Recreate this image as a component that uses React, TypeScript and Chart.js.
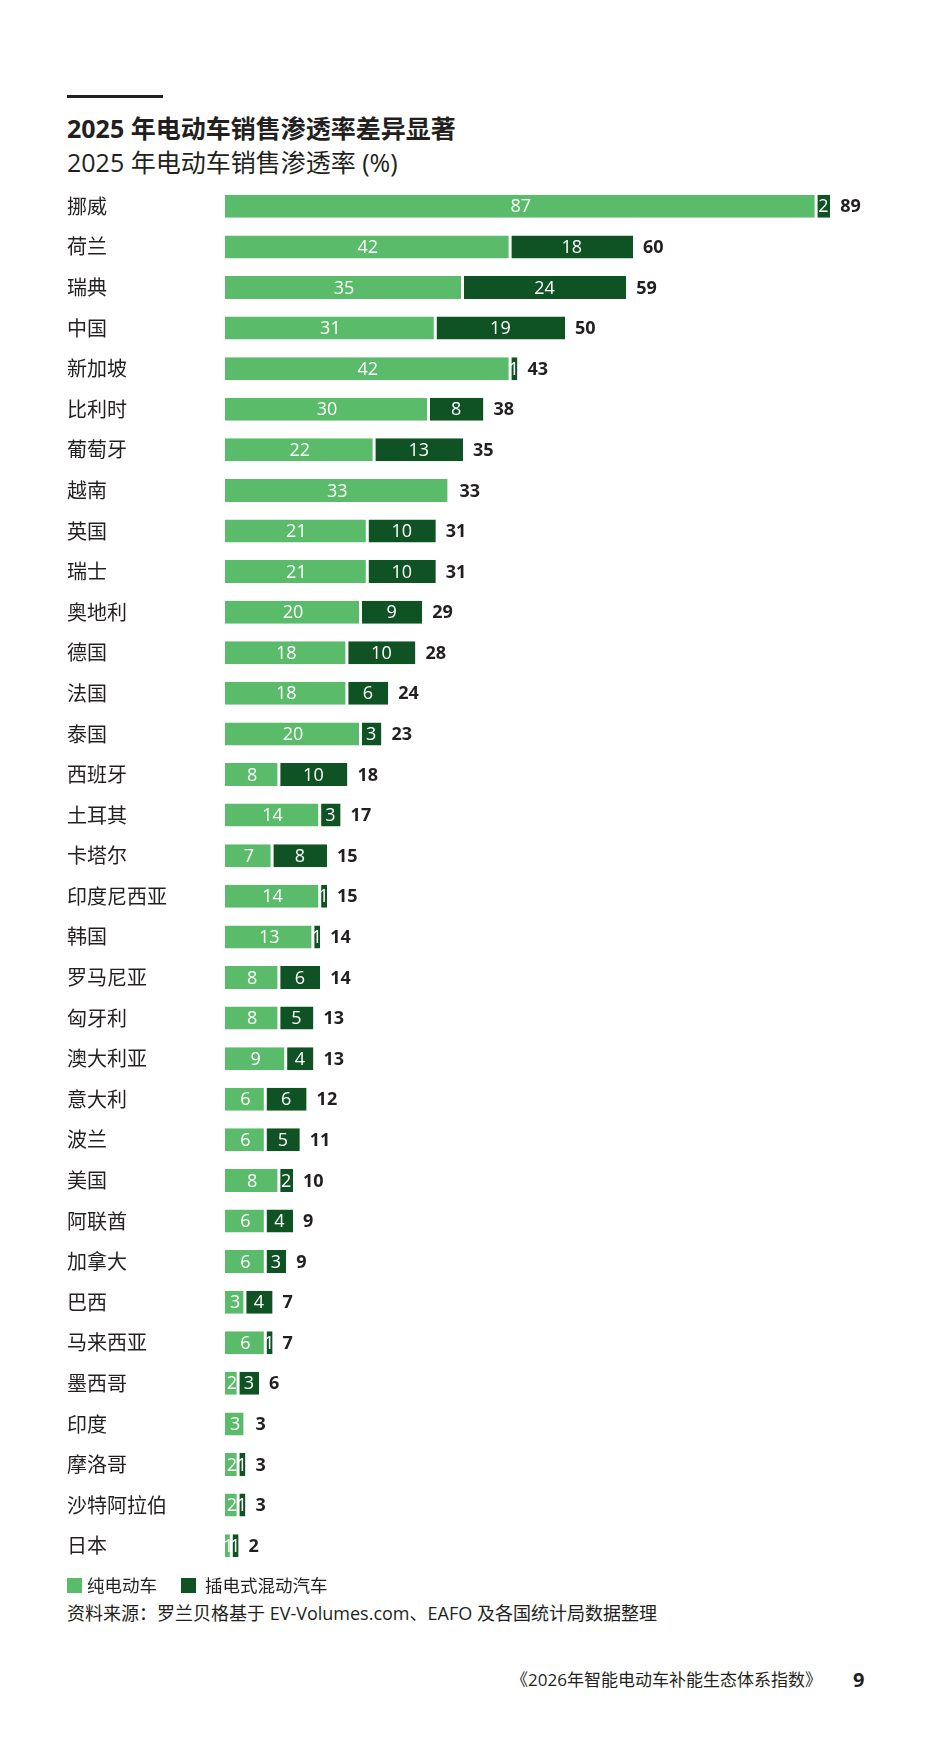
import React, { useEffect, useRef } from "react";
import { Chart, registerables } from "chart.js";

Chart.register(...registerables);

const categories = [
  "挪威", "荷兰", "瑞典", "中国", "新加坡", "比利时", "葡萄牙", "越南", "英国", "瑞士",
  "奥地利", "德国", "法国", "泰国", "西班牙", "土耳其", "卡塔尔", "印度尼西亚", "韩国", "罗马尼亚",
  "匈牙利", "澳大利亚", "意大利", "波兰", "美国", "阿联酋", "加拿大", "巴西", "马来西亚", "墨西哥",
  "印度", "摩洛哥", "沙特阿拉伯", "日本",
];
const bevValues = [
  87, 42, 35, 31, 42, 30, 22, 33, 21, 21,
  20, 18, 18, 20, 8, 14, 7, 14, 13, 8,
  8, 9, 6, 6, 8, 6, 6, 3, 6, 2,
  3, 2, 2, 1,
];
const phevValues = [
  2, 18, 24, 19, 1, 8, 13, 0, 10, 10,
  9, 10, 6, 3, 10, 3, 8, 1, 1, 6,
  5, 4, 6, 5, 2, 4, 3, 4, 1, 3,
  0, 1, 1, 1,
];
const totalValues = [
  89, 60, 59, 50, 43, 38, 35, 33, 31, 31,
  29, 28, 24, 23, 18, 17, 15, 15, 14, 14,
  13, 13, 12, 11, 10, 9, 9, 7, 7, 6,
  3, 3, 3, 2,
];
const seriesNames = ["纯电动车", "插电式混动汽车"];
const xMax = 100;

const GREEN = "#5ABC6A";
const DARK = "#0F5223";
const INK = "#231F20";
const LATIN = '"Open Sans", "Noto Sans CJK SC", sans-serif';
const CJK = '"Noto Sans CJK SC", sans-serif';

const labelPlugin = {
  id: "barLabels",
  afterDatasetsDraw(chart: any) {
    const ctx = chart.ctx;
    const m0 = chart.getDatasetMeta(0);
    const m1 = chart.getDatasetMeta(1);
    ctx.save();
    categories.forEach((_, i) => {
      const segs: [any, number][] = [
        [m0.data[i], bevValues[i]],
        [m1.data[i], phevValues[i]],
      ];
      let end = 0;
      let cy = 0;
      segs.forEach(([el, v]) => {
        const p = el.getProps(["x", "base", "y"], true);
        cy = p.y;
        if (!v) return;
        ctx.font = `18px ${LATIN}`;
        ctx.fillStyle = "#ffffff";
        ctx.textAlign = "center";
        ctx.textBaseline = "middle";
        ctx.fillText(String(v), (p.x + p.base) / 2, p.y + 1);
        end = Math.max(end, p.x);
      });
      ctx.font = `bold 18px ${LATIN}`;
      ctx.fillStyle = INK;
      ctx.textAlign = "left";
      ctx.textBaseline = "middle";
      ctx.fillText(String(totalValues[i]), end + 10, cy + 1);
    });
    ctx.restore();
  },
};

function BarChart() {
  const ref = useRef<HTMLCanvasElement | null>(null);
  useEffect(() => {
    if (!ref.current) return;
    const chart = new Chart(ref.current, {
      type: "bar",
      data: {
        labels: categories,
        datasets: [
          {
            label: seriesNames[0],
            data: bevValues,
            backgroundColor: GREEN,
            borderColor: "#ffffff",
            borderWidth: { left: 0, right: 2, top: 0, bottom: 0 },
            borderSkipped: false,
            barPercentage: 0.567,
            categoryPercentage: 1,
          },
          {
            label: seriesNames[1],
            data: phevValues,
            backgroundColor: DARK,
            borderColor: "#ffffff",
            borderWidth: { left: 1, right: 0, top: 0, bottom: 0 },
            borderSkipped: false,
            barPercentage: 0.567,
            categoryPercentage: 1,
          },
        ],
      },
      options: {
        indexAxis: "y",
        responsive: false,
        maintainAspectRatio: false,
        animation: false,
        layout: { padding: { left: 59, right: 20, top: 20, bottom: 20 } },
        plugins: {
          legend: { display: false },
          tooltip: { enabled: false },
          title: { display: false },
        },
        scales: {
          x: { stacked: true, min: 0, max: xMax, display: false },
          y: {
            stacked: true,
            grid: { display: false },
            border: { display: false },
            ticks: {
              crossAlign: "far",
              padding: 0,
              color: INK,
              font: { family: CJK, size: 20 },
            },
            afterFit: (scale: any) => {
              scale.width = 158;
            },
          },
        },
      },
      plugins: [labelPlugin],
    } as any);
    return () => chart.destroy();
  }, []);
  return (
    <canvas
      ref={ref}
      width={917}
      height={1420}
      style={{ position: "absolute", left: 0, top: 158, width: 917, height: 1420 }}
    />
  );
}

export default function App() {
  const box = (color: string, left: number) => (
    <div style={{ position: "absolute", left, top: 1570, width: 15, height: 15, background: color }} />
  );
  const legendText = (text: string, left: number) => (
    <div style={{ position: "absolute", left, top: 1566, fontSize: 17.5, lineHeight: "22px", color: INK, fontFamily: CJK, whiteSpace: "nowrap" }}>
      {text}
    </div>
  );
  return (
    <div style={{ position: "relative", width: 917, height: 1737, fontFamily: CJK, color: INK }}>
      <div style={{ position: "absolute", left: 59, top: 87, width: 96, height: 3, background: INK }} />
      <div style={{ position: "absolute", left: 59, top: 104, fontSize: 25, lineHeight: "32px", fontWeight: 700, fontFamily: LATIN, whiteSpace: "nowrap" }}>
        2025 年电动车销售渗透率差异显著
      </div>
      <div style={{ position: "absolute", left: 59, top: 138, fontSize: 25, lineHeight: "32px", fontWeight: 400, fontFamily: LATIN, whiteSpace: "nowrap" }}>
        2025 年电动车销售渗透率 (%)
      </div>
      <BarChart />
      {box(GREEN, 59)}
      {legendText(seriesNames[0], 79)}
      {box(DARK, 173)}
      {legendText(seriesNames[1], 197)}
      <div style={{ position: "absolute", left: 59, top: 1594, fontSize: 18, lineHeight: "22px", fontFamily: LATIN, whiteSpace: "nowrap" }}>
        资料来源：罗兰贝格基于 EV-Volumes.com、EAFO 及各国统计局数据整理
      </div>
      <div style={{ position: "absolute", right: 103, top: 1661, fontSize: 17, lineHeight: "22px", fontFamily: LATIN, whiteSpace: "nowrap" }}>
        《2026年智能电动车补能生态体系指数》
      </div>
      <div style={{ position: "absolute", left: 845, top: 1660, fontSize: 20, lineHeight: "24px", fontWeight: 700, fontFamily: LATIN }}>
        9
      </div>
    </div>
  );
}
